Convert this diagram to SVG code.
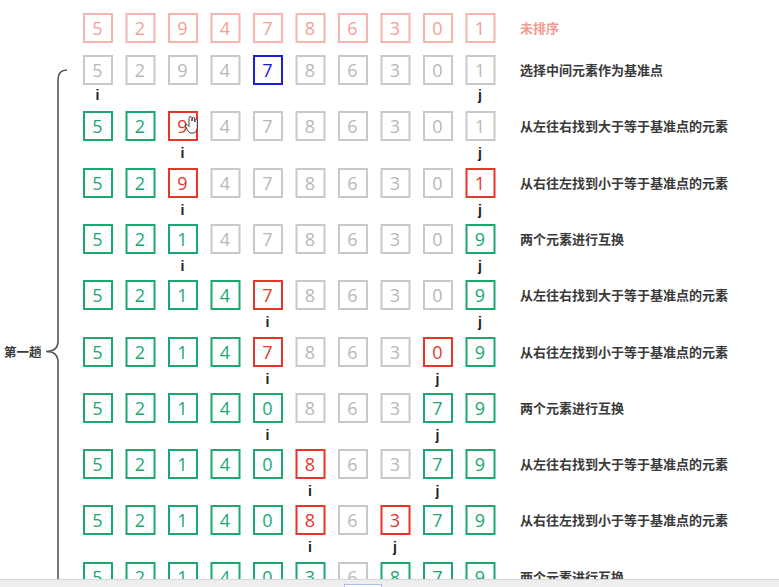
<svg xmlns="http://www.w3.org/2000/svg" width="779" height="587" viewBox="0 0 779 587">
<style>
  rect.p{fill:#fff;stroke:#f5b5af;stroke-width:2}
  rect.n{fill:#fff;stroke:#c9c9c9;stroke-width:2}
  rect.g{fill:#fff;stroke:#1aa86e;stroke-width:2}
  rect.r{fill:#fff;stroke:#e8352a;stroke-width:2}
  rect.b{fill:#fff;stroke:#1b1bd8;stroke-width:2}
  text.d{font-family:"Open Sans","Noto Sans",sans-serif;font-size:18px;text-anchor:middle}
  text.p{fill:#f2a098} text.n{fill:#b8b8b8} text.g{fill:#1aa86e} text.r{fill:#e8352a} text.b{fill:#1b1bd8}
  text.ij{font-family:"Liberation Sans","Noto Sans",sans-serif;font-size:14px;font-weight:bold;fill:#222;text-anchor:middle}
  text.lab{font-family:"Noto Sans CJK SC",sans-serif;font-size:13px;font-weight:bold;fill:#3a3a3a}
  .brace{fill:none;stroke:#555;stroke-width:1.6}
</style>

<g id="connectors">
  <path class="brace" d="M67,70 Q58,70 58,80 L58,341 Q58,351.5 46,351.5 Q58,351.5 58,362 L58,590"/>
</g>
<g id="pass-label"><text class="lab" x="4" y="356.5" style="font-size:12.5px">第一趟</text></g>

<g id="row0" transform="translate(0,13)">
  <g transform="translate(83,0)"><rect class="p" x="1" y="1" width="28" height="28"/><text class="d p" x="14.5" y="21.5">5</text></g>
  <g transform="translate(125.5,0)"><rect class="p" x="1" y="1" width="28" height="28"/><text class="d p" x="14.5" y="21.5">2</text></g>
  <g transform="translate(168,0)"><rect class="p" x="1" y="1" width="28" height="28"/><text class="d p" x="14.5" y="21.5">9</text></g>
  <g transform="translate(210.5,0)"><rect class="p" x="1" y="1" width="28" height="28"/><text class="d p" x="14.5" y="21.5">4</text></g>
  <g transform="translate(253,0)"><rect class="p" x="1" y="1" width="28" height="28"/><text class="d p" x="14.5" y="21.5">7</text></g>
  <g transform="translate(295.5,0)"><rect class="p" x="1" y="1" width="28" height="28"/><text class="d p" x="14.5" y="21.5">8</text></g>
  <g transform="translate(338,0)"><rect class="p" x="1" y="1" width="28" height="28"/><text class="d p" x="14.5" y="21.5">6</text></g>
  <g transform="translate(380.5,0)"><rect class="p" x="1" y="1" width="28" height="28"/><text class="d p" x="14.5" y="21.5">3</text></g>
  <g transform="translate(423,0)"><rect class="p" x="1" y="1" width="28" height="28"/><text class="d p" x="14.5" y="21.5">0</text></g>
  <g transform="translate(465.5,0)"><rect class="p" x="1" y="1" width="28" height="28"/><text class="d p" x="14.5" y="21.5">1</text></g>
  <text class="lab" x="520" y="20" style="fill:#f29a91">未排序</text>
</g>

<g id="row1" transform="translate(0,55)">
  <g transform="translate(83,0)"><rect class="n" x="1" y="1" width="28" height="28"/><text class="d n" x="14.5" y="21.5">5</text></g>
  <g transform="translate(125.5,0)"><rect class="n" x="1" y="1" width="28" height="28"/><text class="d n" x="14.5" y="21.5">2</text></g>
  <g transform="translate(168,0)"><rect class="n" x="1" y="1" width="28" height="28"/><text class="d n" x="14.5" y="21.5">9</text></g>
  <g transform="translate(210.5,0)"><rect class="n" x="1" y="1" width="28" height="28"/><text class="d n" x="14.5" y="21.5">4</text></g>
  <g transform="translate(253,0)"><rect class="b" x="1" y="1" width="28" height="28"/><text class="d b" x="14.5" y="21.5">7</text></g>
  <g transform="translate(295.5,0)"><rect class="n" x="1" y="1" width="28" height="28"/><text class="d n" x="14.5" y="21.5">8</text></g>
  <g transform="translate(338,0)"><rect class="n" x="1" y="1" width="28" height="28"/><text class="d n" x="14.5" y="21.5">6</text></g>
  <g transform="translate(380.5,0)"><rect class="n" x="1" y="1" width="28" height="28"/><text class="d n" x="14.5" y="21.5">3</text></g>
  <g transform="translate(423,0)"><rect class="n" x="1" y="1" width="28" height="28"/><text class="d n" x="14.5" y="21.5">0</text></g>
  <g transform="translate(465.5,0)"><rect class="n" x="1" y="1" width="28" height="28"/><text class="d n" x="14.5" y="21.5">1</text></g>
  <text class="ij" x="97.5" y="45">i</text><text class="ij" x="480" y="45">j</text>
  <text class="lab" x="520" y="20">选择中间元素作为基准点</text>
</g>

<g id="row2" transform="translate(0,111)">
  <g transform="translate(83,0)"><rect class="g" x="1" y="1" width="28" height="28"/><text class="d g" x="14.5" y="21.5">5</text></g>
  <g transform="translate(125.5,0)"><rect class="g" x="1" y="1" width="28" height="28"/><text class="d g" x="14.5" y="21.5">2</text></g>
  <g transform="translate(168,0)"><rect class="r" x="1" y="1" width="28" height="28"/><text class="d r" x="14.5" y="21.5">9</text></g>
  <g transform="translate(210.5,0)"><rect class="n" x="1" y="1" width="28" height="28"/><text class="d n" x="14.5" y="21.5">4</text></g>
  <g transform="translate(253,0)"><rect class="n" x="1" y="1" width="28" height="28"/><text class="d n" x="14.5" y="21.5">7</text></g>
  <g transform="translate(295.5,0)"><rect class="n" x="1" y="1" width="28" height="28"/><text class="d n" x="14.5" y="21.5">8</text></g>
  <g transform="translate(338,0)"><rect class="n" x="1" y="1" width="28" height="28"/><text class="d n" x="14.5" y="21.5">6</text></g>
  <g transform="translate(380.5,0)"><rect class="n" x="1" y="1" width="28" height="28"/><text class="d n" x="14.5" y="21.5">3</text></g>
  <g transform="translate(423,0)"><rect class="n" x="1" y="1" width="28" height="28"/><text class="d n" x="14.5" y="21.5">0</text></g>
  <g transform="translate(465.5,0)"><rect class="n" x="1" y="1" width="28" height="28"/><text class="d n" x="14.5" y="21.5">1</text></g>
  <text class="ij" x="182.5" y="46.5">i</text><text class="ij" x="480" y="46.5">j</text>
  <text class="lab" x="520" y="20">从左往右找到大于等于基准点的元素</text>
  <path d="M188,131 L185.5,126 Q185,124 187,124.5 L189,126.5 L189,118 Q189.5,116 191,116.5 Q192,117 192,118.5 L192,121 L192.3,117.8 Q193.5,116.5 194.6,117.8 L194.8,122 L195.2,119.5 Q196.3,118.3 197.3,119.5 L197.3,128 Q197,132 194,133 L190,133 Z" transform="translate(0,-111)" fill="#fff" stroke="#111" stroke-width="0.8" stroke-linejoin="round"/>
</g>

<g id="row3" transform="translate(0,168)">
  <g transform="translate(83,0)"><rect class="g" x="1" y="1" width="28" height="28"/><text class="d g" x="14.5" y="21.5">5</text></g>
  <g transform="translate(125.5,0)"><rect class="g" x="1" y="1" width="28" height="28"/><text class="d g" x="14.5" y="21.5">2</text></g>
  <g transform="translate(168,0)"><rect class="r" x="1" y="1" width="28" height="28"/><text class="d r" x="14.5" y="21.5">9</text></g>
  <g transform="translate(210.5,0)"><rect class="n" x="1" y="1" width="28" height="28"/><text class="d n" x="14.5" y="21.5">4</text></g>
  <g transform="translate(253,0)"><rect class="n" x="1" y="1" width="28" height="28"/><text class="d n" x="14.5" y="21.5">7</text></g>
  <g transform="translate(295.5,0)"><rect class="n" x="1" y="1" width="28" height="28"/><text class="d n" x="14.5" y="21.5">8</text></g>
  <g transform="translate(338,0)"><rect class="n" x="1" y="1" width="28" height="28"/><text class="d n" x="14.5" y="21.5">6</text></g>
  <g transform="translate(380.5,0)"><rect class="n" x="1" y="1" width="28" height="28"/><text class="d n" x="14.5" y="21.5">3</text></g>
  <g transform="translate(423,0)"><rect class="n" x="1" y="1" width="28" height="28"/><text class="d n" x="14.5" y="21.5">0</text></g>
  <g transform="translate(465.5,0)"><rect class="r" x="1" y="1" width="28" height="28"/><text class="d r" x="14.5" y="21.5">1</text></g>
  <text class="ij" x="182.5" y="46.5">i</text><text class="ij" x="480" y="46.5">j</text>
  <text class="lab" x="520" y="20">从右往左找到小于等于基准点的元素</text>
</g>

<g id="row4" transform="translate(0,224)">
  <g transform="translate(83,0)"><rect class="g" x="1" y="1" width="28" height="28"/><text class="d g" x="14.5" y="21.5">5</text></g>
  <g transform="translate(125.5,0)"><rect class="g" x="1" y="1" width="28" height="28"/><text class="d g" x="14.5" y="21.5">2</text></g>
  <g transform="translate(168,0)"><rect class="g" x="1" y="1" width="28" height="28"/><text class="d g" x="14.5" y="21.5">1</text></g>
  <g transform="translate(210.5,0)"><rect class="n" x="1" y="1" width="28" height="28"/><text class="d n" x="14.5" y="21.5">4</text></g>
  <g transform="translate(253,0)"><rect class="n" x="1" y="1" width="28" height="28"/><text class="d n" x="14.5" y="21.5">7</text></g>
  <g transform="translate(295.5,0)"><rect class="n" x="1" y="1" width="28" height="28"/><text class="d n" x="14.5" y="21.5">8</text></g>
  <g transform="translate(338,0)"><rect class="n" x="1" y="1" width="28" height="28"/><text class="d n" x="14.5" y="21.5">6</text></g>
  <g transform="translate(380.5,0)"><rect class="n" x="1" y="1" width="28" height="28"/><text class="d n" x="14.5" y="21.5">3</text></g>
  <g transform="translate(423,0)"><rect class="n" x="1" y="1" width="28" height="28"/><text class="d n" x="14.5" y="21.5">0</text></g>
  <g transform="translate(465.5,0)"><rect class="g" x="1" y="1" width="28" height="28"/><text class="d g" x="14.5" y="21.5">9</text></g>
  <text class="ij" x="182.5" y="46.5">i</text><text class="ij" x="480" y="46.5">j</text>
  <text class="lab" x="520" y="20">两个元素进行互换</text>
</g>

<g id="row5" transform="translate(0,280)">
  <g transform="translate(83,0)"><rect class="g" x="1" y="1" width="28" height="28"/><text class="d g" x="14.5" y="21.5">5</text></g>
  <g transform="translate(125.5,0)"><rect class="g" x="1" y="1" width="28" height="28"/><text class="d g" x="14.5" y="21.5">2</text></g>
  <g transform="translate(168,0)"><rect class="g" x="1" y="1" width="28" height="28"/><text class="d g" x="14.5" y="21.5">1</text></g>
  <g transform="translate(210.5,0)"><rect class="g" x="1" y="1" width="28" height="28"/><text class="d g" x="14.5" y="21.5">4</text></g>
  <g transform="translate(253,0)"><rect class="r" x="1" y="1" width="28" height="28"/><text class="d r" x="14.5" y="21.5">7</text></g>
  <g transform="translate(295.5,0)"><rect class="n" x="1" y="1" width="28" height="28"/><text class="d n" x="14.5" y="21.5">8</text></g>
  <g transform="translate(338,0)"><rect class="n" x="1" y="1" width="28" height="28"/><text class="d n" x="14.5" y="21.5">6</text></g>
  <g transform="translate(380.5,0)"><rect class="n" x="1" y="1" width="28" height="28"/><text class="d n" x="14.5" y="21.5">3</text></g>
  <g transform="translate(423,0)"><rect class="n" x="1" y="1" width="28" height="28"/><text class="d n" x="14.5" y="21.5">0</text></g>
  <g transform="translate(465.5,0)"><rect class="g" x="1" y="1" width="28" height="28"/><text class="d g" x="14.5" y="21.5">9</text></g>
  <text class="ij" x="267.5" y="46.5">i</text><text class="ij" x="480" y="46.5">j</text>
  <text class="lab" x="520" y="20">从左往右找到大于等于基准点的元素</text>
</g>

<g id="row6" transform="translate(0,337)">
  <g transform="translate(83,0)"><rect class="g" x="1" y="1" width="28" height="28"/><text class="d g" x="14.5" y="21.5">5</text></g>
  <g transform="translate(125.5,0)"><rect class="g" x="1" y="1" width="28" height="28"/><text class="d g" x="14.5" y="21.5">2</text></g>
  <g transform="translate(168,0)"><rect class="g" x="1" y="1" width="28" height="28"/><text class="d g" x="14.5" y="21.5">1</text></g>
  <g transform="translate(210.5,0)"><rect class="g" x="1" y="1" width="28" height="28"/><text class="d g" x="14.5" y="21.5">4</text></g>
  <g transform="translate(253,0)"><rect class="r" x="1" y="1" width="28" height="28"/><text class="d r" x="14.5" y="21.5">7</text></g>
  <g transform="translate(295.5,0)"><rect class="n" x="1" y="1" width="28" height="28"/><text class="d n" x="14.5" y="21.5">8</text></g>
  <g transform="translate(338,0)"><rect class="n" x="1" y="1" width="28" height="28"/><text class="d n" x="14.5" y="21.5">6</text></g>
  <g transform="translate(380.5,0)"><rect class="n" x="1" y="1" width="28" height="28"/><text class="d n" x="14.5" y="21.5">3</text></g>
  <g transform="translate(423,0)"><rect class="r" x="1" y="1" width="28" height="28"/><text class="d r" x="14.5" y="21.5">0</text></g>
  <g transform="translate(465.5,0)"><rect class="g" x="1" y="1" width="28" height="28"/><text class="d g" x="14.5" y="21.5">9</text></g>
  <text class="ij" x="267.5" y="46.5">i</text><text class="ij" x="437.5" y="46.5">j</text>
  <text class="lab" x="520" y="20">从右往左找到小于等于基准点的元素</text>
</g>

<g id="row7" transform="translate(0,393)">
  <g transform="translate(83,0)"><rect class="g" x="1" y="1" width="28" height="28"/><text class="d g" x="14.5" y="21.5">5</text></g>
  <g transform="translate(125.5,0)"><rect class="g" x="1" y="1" width="28" height="28"/><text class="d g" x="14.5" y="21.5">2</text></g>
  <g transform="translate(168,0)"><rect class="g" x="1" y="1" width="28" height="28"/><text class="d g" x="14.5" y="21.5">1</text></g>
  <g transform="translate(210.5,0)"><rect class="g" x="1" y="1" width="28" height="28"/><text class="d g" x="14.5" y="21.5">4</text></g>
  <g transform="translate(253,0)"><rect class="g" x="1" y="1" width="28" height="28"/><text class="d g" x="14.5" y="21.5">0</text></g>
  <g transform="translate(295.5,0)"><rect class="n" x="1" y="1" width="28" height="28"/><text class="d n" x="14.5" y="21.5">8</text></g>
  <g transform="translate(338,0)"><rect class="n" x="1" y="1" width="28" height="28"/><text class="d n" x="14.5" y="21.5">6</text></g>
  <g transform="translate(380.5,0)"><rect class="n" x="1" y="1" width="28" height="28"/><text class="d n" x="14.5" y="21.5">3</text></g>
  <g transform="translate(423,0)"><rect class="g" x="1" y="1" width="28" height="28"/><text class="d g" x="14.5" y="21.5">7</text></g>
  <g transform="translate(465.5,0)"><rect class="g" x="1" y="1" width="28" height="28"/><text class="d g" x="14.5" y="21.5">9</text></g>
  <text class="ij" x="267.5" y="46.5">i</text><text class="ij" x="437.5" y="46.5">j</text>
  <text class="lab" x="520" y="20">两个元素进行互换</text>
</g>

<g id="row8" transform="translate(0,449)">
  <g transform="translate(83,0)"><rect class="g" x="1" y="1" width="28" height="28"/><text class="d g" x="14.5" y="21.5">5</text></g>
  <g transform="translate(125.5,0)"><rect class="g" x="1" y="1" width="28" height="28"/><text class="d g" x="14.5" y="21.5">2</text></g>
  <g transform="translate(168,0)"><rect class="g" x="1" y="1" width="28" height="28"/><text class="d g" x="14.5" y="21.5">1</text></g>
  <g transform="translate(210.5,0)"><rect class="g" x="1" y="1" width="28" height="28"/><text class="d g" x="14.5" y="21.5">4</text></g>
  <g transform="translate(253,0)"><rect class="g" x="1" y="1" width="28" height="28"/><text class="d g" x="14.5" y="21.5">0</text></g>
  <g transform="translate(295.5,0)"><rect class="r" x="1" y="1" width="28" height="28"/><text class="d r" x="14.5" y="21.5">8</text></g>
  <g transform="translate(338,0)"><rect class="n" x="1" y="1" width="28" height="28"/><text class="d n" x="14.5" y="21.5">6</text></g>
  <g transform="translate(380.5,0)"><rect class="n" x="1" y="1" width="28" height="28"/><text class="d n" x="14.5" y="21.5">3</text></g>
  <g transform="translate(423,0)"><rect class="g" x="1" y="1" width="28" height="28"/><text class="d g" x="14.5" y="21.5">7</text></g>
  <g transform="translate(465.5,0)"><rect class="g" x="1" y="1" width="28" height="28"/><text class="d g" x="14.5" y="21.5">9</text></g>
  <text class="ij" x="310" y="46.5">i</text><text class="ij" x="437.5" y="46.5">j</text>
  <text class="lab" x="520" y="20">从左往右找到大于等于基准点的元素</text>
</g>

<g id="row9" transform="translate(0,505)">
  <g transform="translate(83,0)"><rect class="g" x="1" y="1" width="28" height="28"/><text class="d g" x="14.5" y="21.5">5</text></g>
  <g transform="translate(125.5,0)"><rect class="g" x="1" y="1" width="28" height="28"/><text class="d g" x="14.5" y="21.5">2</text></g>
  <g transform="translate(168,0)"><rect class="g" x="1" y="1" width="28" height="28"/><text class="d g" x="14.5" y="21.5">1</text></g>
  <g transform="translate(210.5,0)"><rect class="g" x="1" y="1" width="28" height="28"/><text class="d g" x="14.5" y="21.5">4</text></g>
  <g transform="translate(253,0)"><rect class="g" x="1" y="1" width="28" height="28"/><text class="d g" x="14.5" y="21.5">0</text></g>
  <g transform="translate(295.5,0)"><rect class="r" x="1" y="1" width="28" height="28"/><text class="d r" x="14.5" y="21.5">8</text></g>
  <g transform="translate(338,0)"><rect class="n" x="1" y="1" width="28" height="28"/><text class="d n" x="14.5" y="21.5">6</text></g>
  <g transform="translate(380.5,0)"><rect class="r" x="1" y="1" width="28" height="28"/><text class="d r" x="14.5" y="21.5">3</text></g>
  <g transform="translate(423,0)"><rect class="g" x="1" y="1" width="28" height="28"/><text class="d g" x="14.5" y="21.5">7</text></g>
  <g transform="translate(465.5,0)"><rect class="g" x="1" y="1" width="28" height="28"/><text class="d g" x="14.5" y="21.5">9</text></g>
  <text class="ij" x="310" y="46.5">i</text><text class="ij" x="395" y="46.5">j</text>
  <text class="lab" x="520" y="20">从右往左找到小于等于基准点的元素</text>
</g>

<g id="row10" transform="translate(0,562)">
  <g transform="translate(83,0)"><rect class="g" x="1" y="1" width="28" height="28"/><text class="d g" x="14.5" y="21.5">5</text></g>
  <g transform="translate(125.5,0)"><rect class="g" x="1" y="1" width="28" height="28"/><text class="d g" x="14.5" y="21.5">2</text></g>
  <g transform="translate(168,0)"><rect class="g" x="1" y="1" width="28" height="28"/><text class="d g" x="14.5" y="21.5">1</text></g>
  <g transform="translate(210.5,0)"><rect class="g" x="1" y="1" width="28" height="28"/><text class="d g" x="14.5" y="21.5">4</text></g>
  <g transform="translate(253,0)"><rect class="g" x="1" y="1" width="28" height="28"/><text class="d g" x="14.5" y="21.5">0</text></g>
  <g transform="translate(295.5,0)"><rect class="g" x="1" y="1" width="28" height="28"/><text class="d g" x="14.5" y="21.5">3</text></g>
  <g transform="translate(338,0)"><rect class="n" x="1" y="1" width="28" height="28"/><text class="d n" x="14.5" y="21.5">6</text></g>
  <g transform="translate(380.5,0)"><rect class="g" x="1" y="1" width="28" height="28"/><text class="d g" x="14.5" y="21.5">8</text></g>
  <g transform="translate(423,0)"><rect class="g" x="1" y="1" width="28" height="28"/><text class="d g" x="14.5" y="21.5">7</text></g>
  <g transform="translate(465.5,0)"><rect class="g" x="1" y="1" width="28" height="28"/><text class="d g" x="14.5" y="21.5">9</text></g>
  <text class="lab" x="520" y="20">两个元素进行互换</text>
</g>

<g id="bottom-bar">
  <rect x="0" y="579" width="779" height="8" fill="#eeeeee"/>
  <line x1="0" y1="579.5" x2="779" y2="579.5" stroke="#d6d6d6" stroke-width="1"/>
  <rect x="344.5" y="584.5" width="37" height="6" fill="#fafafa" stroke="#a9c2e6" stroke-width="1"/>
</g>
</svg>
